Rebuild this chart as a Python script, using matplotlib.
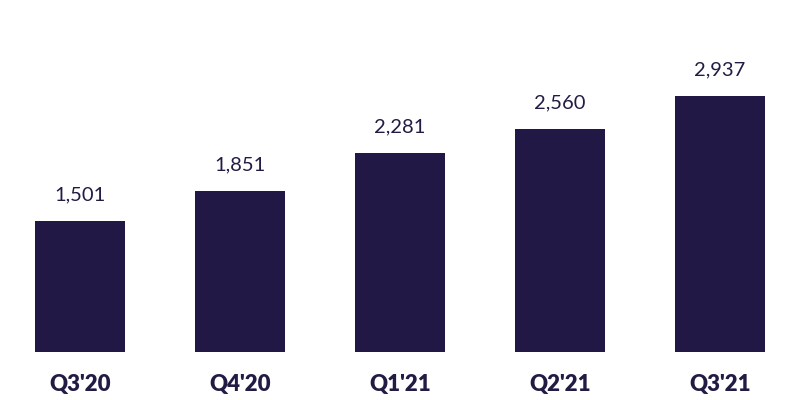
import matplotlib
matplotlib.use('Agg')
import matplotlib.pyplot as plt

# Data
quarters = ["Q3'20", "Q4'20", "Q1'21", "Q2'21", "Q3'21"]
values = [1501, 1851, 2281, 2560, 2937]

BarColor = '#211845'
TextColor = '#221c44'

plt.rcParams['font.family'] = ['Lato', 'DejaVu Sans']

fig = plt.figure(figsize=(8, 4), dpi=100)
ax = fig.add_axes([0, 48 / 400, 1, 352 / 400])

xs = list(range(len(values)))
ax.bar(xs, values, width=90 / 160, color=BarColor)

ax.set_xlim(-0.5, 4.5)
ax.set_ylim(0, 352 / 0.0872)

for x, v in zip(xs, values):
    ax.annotate('{:,}'.format(v), (x, v), xytext=(0, 26), textcoords='offset pixels',
                ha='center', va='center', fontsize=14.5, color=TextColor)

ax.set_xticks(xs)
ax.set_xticklabels(quarters, fontsize=16, fontweight='heavy', color=TextColor)
ax.tick_params(axis='x', length=0, pad=16)
ax.set_yticks([])
for s in ax.spines.values():
    s.set_visible(False)

fig.savefig('out.png', dpi=100)
